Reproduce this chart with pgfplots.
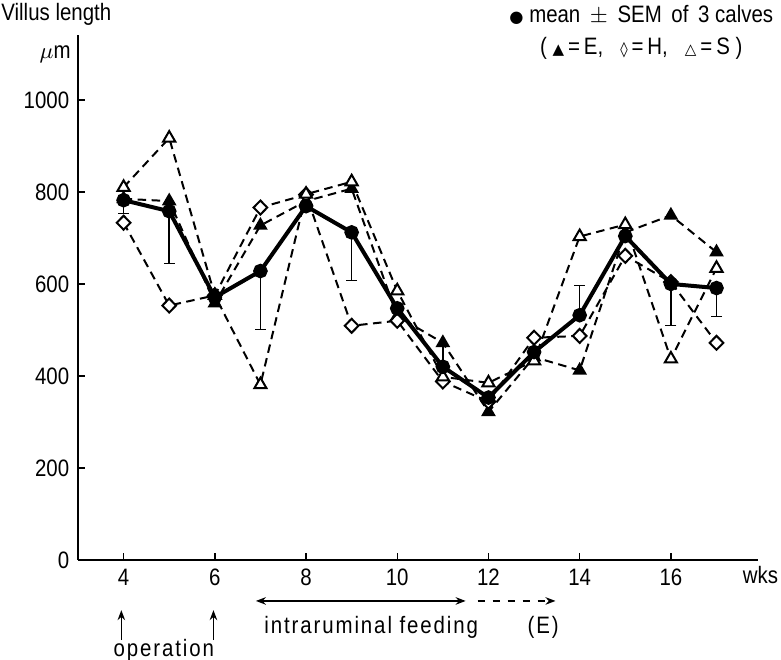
\documentclass[border=0pt]{standalone}
\usepackage{fontspec}
\setmainfont{Liberation Sans}[FakeStretch=0.86]
\newfontfamily\sym{DejaVu Sans}
\newfontfamily\spaced{Liberation Sans}[FakeStretch=0.86, LetterSpace=8]
\usepackage{pgfplots}
\pgfplotsset{compat=1.18}
\usetikzlibrary{calc,arrows.meta}
\tikzset{dsh/.style={dash pattern=on 3.4pt off 2.2pt, line width=0.8pt}}
\begin{document}
\begin{tikzpicture}
\begin{axis}[name=ax, scale only axis, width=272pt, height=210pt,
    xmin=3, xmax=17.91, ymin=0, ymax=1141,
    axis lines=left, axis line style={-, line width=0.6pt},
    xtick={4,6,...,16}, ytick={0,200,...,1000},
    tick align=inside, major tick length=2.6pt, tick style={line width=0.6pt, black},
    ticklabel style={font=\fontsize{9.5}{10}\selectfont},
    /pgf/number format/assume math mode=true, /pgf/number format/1000 sep={},
    clip=false,
    font=\fontsize{9.5}{11}\selectfont]
% E
\addplot[dsh, mark=triangle*, mark options={solid, fill=black, mark size=2.6pt}] coordinates {
(4,785) (5,780) (6,558) (7,727) (8,780) (9,807) (10,530) (11,472) (12,322) (13,441) (14,412) (15,712) (16,749) (17,669)};
% H
\addplot[dsh, mark=diamond*, mark options={solid, fill=white, mark size=2.8pt, xscale=1.3}] coordinates {
(4,733) (5,553) (6,575) (7,766) (8,794) (9,509) (10,520) (11,388) (12,344) (13,483) (14,487) (15,661) (16,604) (17,472)};
% S
\addplot[dsh, mark=triangle*, mark options={solid, fill=white, mark size=2.8pt}] coordinates {
(4,810) (5,917) (6,575) (7,381) (8,795) (9,822) (10,585) (11,398) (12,385) (13,433) (14,703) (15,729) (16,437) (17,634)};
% SEM bars
\addplot[draw=none, mark=none, forget plot, error bars/.cd, y dir=minus, y explicit,
    error bar style={draw=black, solid, line width=0.6pt}, error mark options={draw=black, rotate=90, mark size=2.2pt}] coordinates {
(4,782) -= (0,29) (5,758) -= (0,113) (7,628) -= (0,126) (9,712) -= (0,104) (16,600) -= (0,91) (17,591) -= (0,61)};
\addplot[draw=none, mark=none, forget plot, error bars/.cd, y dir=plus, y explicit,
    error bar style={draw=black, solid, line width=0.6pt}, error mark options={draw=black, rotate=90, mark size=2.2pt}] coordinates {
(11,420) += (0,44) (14,532) += (0,65)};
% mean
\addplot[line width=1.6pt, mark=*, mark options={mark size=2.1pt}] coordinates {
(4,782) (5,758) (6,571) (7,628) (8,769) (9,712) (10,547) (11,420) (12,353) (13,452) (14,532) (15,704) (16,600) (17,591)};

\node[anchor=west, inner sep=0pt] at (axis cs:1.31,1185) {Villus length};
\node at (axis cs:2.5,1098) {$\mu$m};
\node at (axis cs:15.35,1185) {{\sym\fontsize{6.5}{8}\selectfont ●} mean \,$\pm$\, SEM \,of\, 3 calves};
\node at (axis cs:15.35,1112) {( {\sym\fontsize{6}{8}\selectfont ▲}\,=\,E, \ \ {\sym\fontsize{6}{8}\selectfont ◊}\,=\,H, \ \ {\sym\fontsize{6}{8}\selectfont △}\,=\,S )};
\node[anchor=east, inner sep=0pt] at (axis cs:18.36,-33) {wks};
\draw[-{Stealth[length=4pt,width=3pt]}, line width=0.5pt] (axis cs:3.95,-174) -- (axis cs:3.95,-109);
\draw[-{Stealth[length=4pt,width=3pt]}, line width=0.5pt] (axis cs:5.97,-174) -- (axis cs:5.97,-109);
\node at (axis cs:4.88,-196) {\spaced operation};
\draw[{Stealth[length=4pt,width=3pt]}-{Stealth[length=4pt,width=3pt]}, line width=0.7pt] (axis cs:6.9,-89) -- (axis cs:11.5,-89);
\draw[dash pattern=on 3pt off 3pt, -{Stealth[length=4pt,width=3pt]}, line width=0.7pt] (axis cs:11.76,-89) -- (axis cs:13.47,-89);
\node at (axis cs:9.43,-146) {\spaced intraruminal feeding};
\node at (axis cs:13.2,-146) {\spaced (E)};
\end{axis}
\pgfresetboundingbox
\path ($(ax.south west)+(-31.2pt,224pt)$) rectangle ($(ax.south west)+(281.2pt,-40pt)$);
\end{tikzpicture}
\end{document}
